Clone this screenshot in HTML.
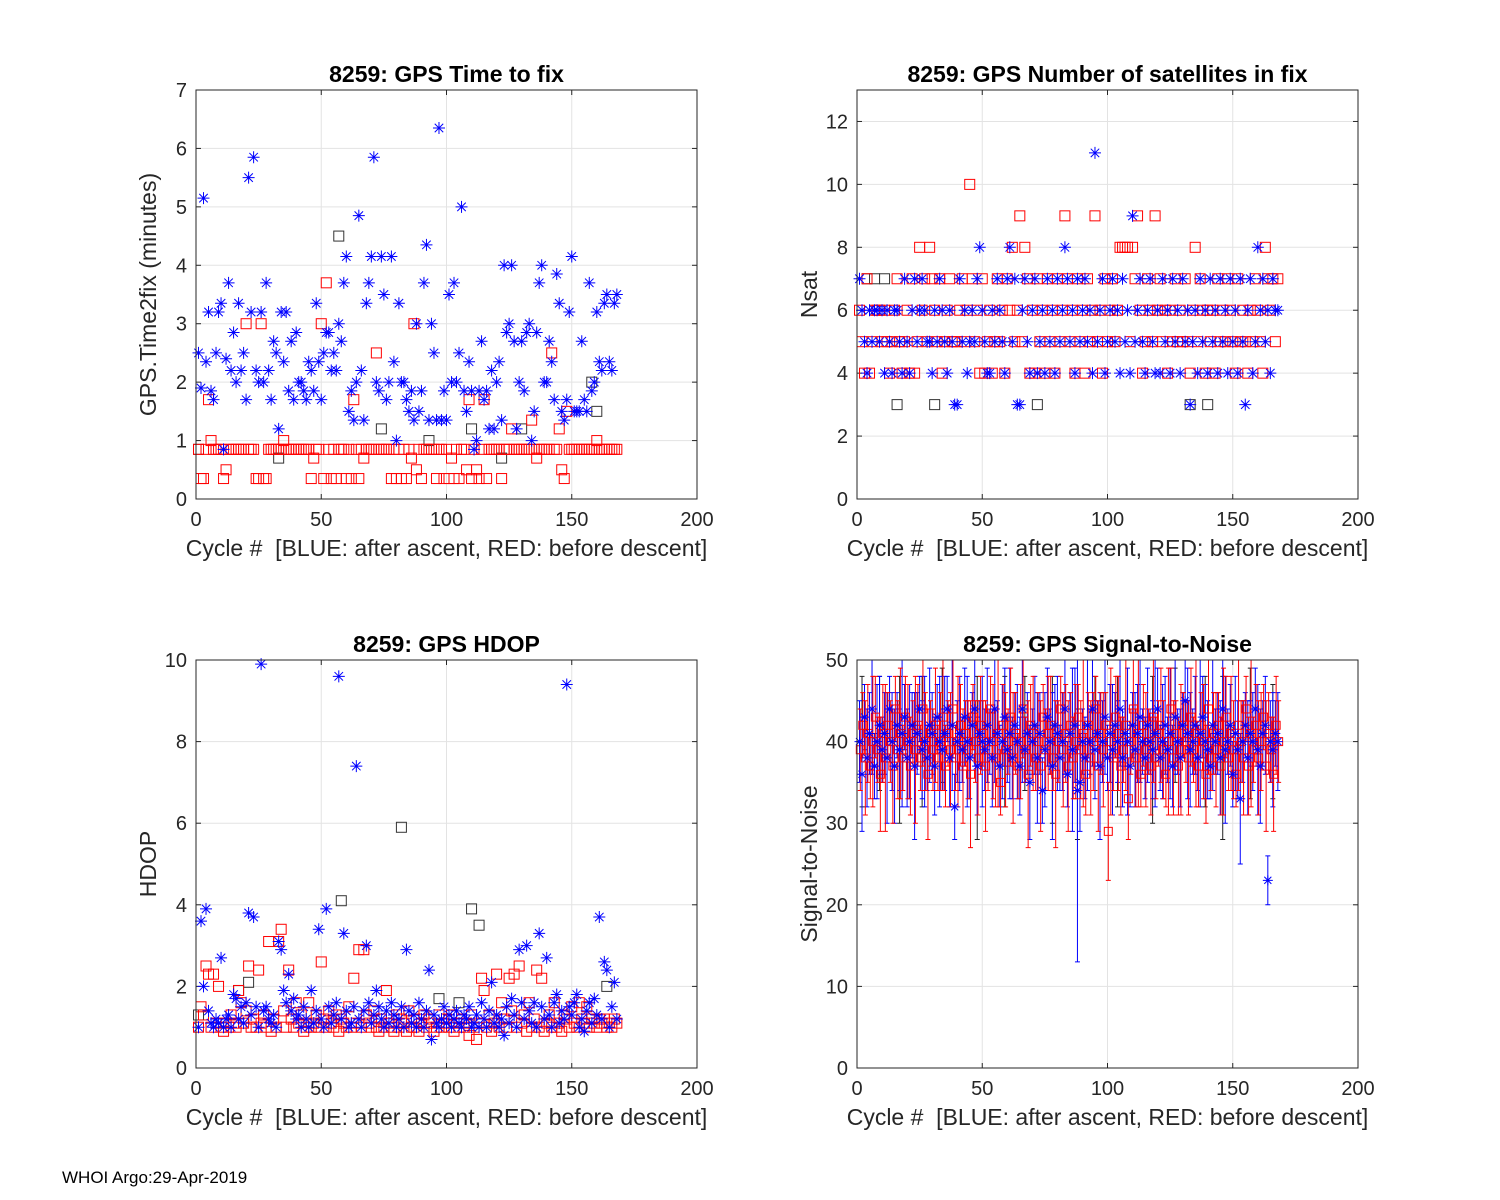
<!DOCTYPE html>
<html><head><meta charset="utf-8"><style>
html,body{margin:0;padding:0;background:#fff;}
svg{display:block;font-family:"Liberation Sans",Arial,sans-serif;}
text{white-space:pre;}
</style></head><body>
<svg id="fig" width="1500" height="1200" viewBox="0 0 1500 1200" xmlns="http://www.w3.org/2000/svg" xml:space="preserve">
<rect width="1500" height="1200" fill="#fff"/>
<text x="62" y="1183" font-size="17" fill="#000">WHOI Argo:29-Apr-2019</text>
</svg>
<script>
const xTicks=[0,50,100,150,200];
const timeBlue=[2.5,1.9,5.15,2.35,3.2,1.85,1.7,2.5,3.2,3.35,0.85,2.4,3.7,2.2,2.85,2.0,3.35,2.2,2.5,1.7,5.5,3.2,5.85,2.2,2.0,3.2,2.0,3.7,2.2,1.7,2.7,2.5,1.2,3.2,2.35,3.2,1.85,2.7,1.7,2.85,2.0,2.0,1.85,1.7,2.35,2.2,1.85,3.35,2.35,1.7,2.5,2.85,2.85,2.2,2.5,2.2,3.0,2.7,3.7,4.15,1.5,1.85,1.35,2.0,4.85,2.2,1.35,3.35,3.7,4.15,5.85,2.0,1.85,4.15,3.5,1.7,2.0,4.15,2.35,1.0,3.35,2.0,2.0,1.7,1.5,1.85,1.35,3.0,1.5,1.85,3.7,4.35,1.35,3.0,2.5,1.35,6.35,1.35,1.85,1.35,3.5,2.0,3.7,2.0,2.5,5.0,1.85,1.5,2.35,1.85,0.85,1.0,1.85,2.7,1.7,1.85,1.2,2.2,1.2,2.0,2.35,1.35,4.0,2.85,3.0,4.0,2.7,1.2,2.0,2.7,1.85,2.85,3.0,1.0,1.5,2.85,3.7,4.0,2.0,2.0,2.7,2.35,1.7,3.85,3.35,1.5,1.35,1.7,3.2,4.15,1.5,1.5,1.5,2.7,1.7,1.5,3.7,1.85,2.0,3.2,2.35,2.2,3.35,3.5,2.35,2.2,3.35,3.5];
const timeRed=[.85,.35,.35,.85,1.7,1.0,.85,.85,.85,.85,.35,.5,.85,.85,.85,.85,.85,.85,.85,3.0,.85,.85,.85,.35,.35,3.0,.35,.35,.85,.85,.85,.85,.85,.85,1.0,.85,.85,.85,.85,.85,.85,.85,.85,.85,.85,.35,.7,.85,.85,3.0,.35,3.7,.85,.35,.85,.35,.85,.85,.85,.35,.85,.35,1.7,.85,.35,.85,.7,.85,.85,.85,.85,2.5,.85,.85,.85,.85,.85,.35,.85,.35,.85,.35,.85,.35,.85,.7,3.0,.5,.85,.35,.85,.85,.85,.85,.85,.35,.85,.85,.35,.85,.35,.7,.35,.85,.35,.85,.85,.5,1.7,.35,.85,.5,.35,.85,1.7,.35,.85,.85,.85,.85,.85,.35,.85,.85,.85,1.2,.85,.85,.85,.85,.85,.85,.85,1.35,.85,.7,.85,.85,.85,.85,.85,2.5,.85,.85,1.2,.5,.35,1.5,.85,.85,.85,.85,.85,.85,.85,.85,.85,.85,.85,1.0,.85,.85,.85,.85,.85,.85,.85,.85];
const timeOtherCycles=[1,33,57,74,93,110,122,130,158,160];
const timeOtherVals=[0.85,0.7,4.5,1.2,1.0,1.2,0.7,1.2,2.0,1.5];
const nsatBlue=[7,6,5,4,6,5,6,6,5,6,4,6,5,4,6,6,5,4,7,5,4,6,7,5,6,7,6,5,5,4,6,5,7,6,5,4,6,5,3,3,7,5,6,4,5,6,5,7,8,6,5,4,4,6,5,7,6,5,4,7,8,5,7,3,3,6,7,5,4,6,7,4,5,6,4,7,5,6,4,7,5,6,8,7,5,6,4,7,5,6,7,5,6,4,11,5,6,7,4,5,6,7,5,6,4,7,5,6,4,9,5,6,7,5,4,6,7,5,4,6,4,7,5,6,4,7,5,6,4,7,5,6,3,5,6,4,7,5,6,4,7,5,6,4,7,5,6,4,7,5,6,4,7,5,3,6,7,4,5,8,6,7,5,6,4,7,6,6];
const nsatRed=[6,5,4,7,4,5,6,6,6,5,6,5,4,5,6,7,5,4,5,6,4,7,4,5,8,6,7,5,8,7,6,5,7,4,5,6,7,5,5,5,6,7,5,6,10,7,5,6,4,7,4,5,6,4,5,7,5,6,4,7,6,8,5,6,9,5,8,7,4,6,4,7,5,6,4,7,5,6,4,7,5,6,9,7,5,6,4,7,5,6,4,7,5,6,9,5,6,4,7,5,6,7,5,6,8,8,8,8,5,8,7,9,6,4,5,7,6,5,9,6,7,5,6,4,6,5,7,5,6,5,7,5,4,6,8,5,7,6,4,6,5,6,4,7,5,6,5,7,6,5,4,7,5,6,5,4,6,5,7,6,5,4,8,7,6,7,5,7];
const nsatOtherCycles=[4,7,11,16,31,72,133,140];
const nsatOtherVals=[7,7,7,3,3,3,3,3];
const hdopBlue=[1.0,3.6,2.0,3.9,1.4,1.1,1.0,1.2,1.1,2.7,1.0,1.2,1.3,1.0,1.8,1.7,1.2,1.5,1.1,1.6,3.8,1.3,3.7,1.5,1.0,9.9,1.4,1.5,1.2,1.1,1.3,1.0,3.1,2.9,1.9,1.6,2.3,1.4,1.7,1.2,1.3,1.0,1.5,1.2,1.0,1.9,1.1,1.4,3.4,1.2,1.0,3.9,1.5,1.1,1.3,1.6,9.6,1.2,3.3,1.4,1.0,1.1,1.5,7.4,1.2,1.0,1.4,3.0,1.6,1.1,1.3,1.9,1.5,1.2,1.0,1.4,1.1,1.6,1.3,1.0,1.2,1.5,1.0,2.9,1.4,1.1,1.3,1.0,1.6,1.2,1.0,1.4,2.4,0.7,1.3,1.1,1.0,1.2,1.5,1.1,1.3,1.0,1.2,1.4,1.1,1.0,1.3,1.2,1.5,1.0,1.1,1.3,1.0,1.6,1.2,1.0,1.4,2.1,1.1,1.3,1.0,1.2,0.8,1.5,1.1,1.7,1.3,1.0,2.9,1.6,1.2,3.0,1.4,1.1,1.6,1.0,3.3,1.5,1.2,2.7,1.3,1.0,1.6,1.8,1.1,1.4,1.2,9.4,1.5,1.3,1.6,1.8,1.0,1.2,0.9,1.4,1.6,1.1,1.7,1.3,3.7,1.2,2.6,2.4,1.0,1.5,2.1,1.2];
const hdopRed=[1.0,1.5,1.3,2.5,2.3,1.0,2.3,1.1,2.0,1.0,0.9,1.1,1.0,1.3,1.1,1.0,1.9,1.6,1.1,1.4,2.5,1.0,1.2,1.0,2.4,1.1,1.3,1.0,3.1,0.9,1.2,1.0,3.1,3.4,1.4,1.0,2.4,1.2,1.0,1.6,1.1,1.3,0.9,1.0,1.6,1.0,1.1,1.3,1.0,2.6,1.2,1.0,1.4,1.1,1.0,1.3,0.9,1.2,1.1,1.0,1.5,1.0,2.2,1.1,2.9,1.0,2.9,1.3,1.1,1.0,1.4,1.0,0.9,1.2,1.0,1.9,1.1,1.0,0.9,1.3,1.0,1.2,1.1,0.9,1.4,1.0,1.0,1.2,0.9,1.1,1.3,1.0,1.2,1.1,0.9,1.0,1.3,1.0,1.1,1.2,1.0,1.3,0.9,1.1,1.0,1.2,1.0,1.1,0.8,1.3,1.0,0.7,1.1,2.2,1.9,1.0,1.3,0.9,1.1,2.3,1.0,1.6,1.2,1.0,2.2,1.4,2.3,1.0,2.5,1.1,1.3,0.9,1.6,1.0,1.2,2.4,1.0,2.2,0.9,1.1,1.3,1.0,1.6,1.0,1.1,0.9,1.3,1.2,1.0,1.5,1.1,1.0,1.6,1.2,1.1,1.5,1.0,1.2,1.1,1.0,1.2,1.1,1.2,1.0,1.1,1.0,1.2,1.1];
const hdopOtherCycles=[1,17,21,58,82,97,105,110,113,164];
const hdopOtherVals=[1.3,1.9,2.1,4.1,5.9,1.7,1.6,3.9,3.5,2.0];
const snrBlue=[40,36,43,38,41,44,37,40,42,39,41,38,44,40,37,42,39,41,43,38,40,42,37,41,44,39,40,38,42,41,37,43,40,39,41,44,38,42,32,40,41,39,43,40,38,42,44,37,41,40,39,42,40,38,44,41,37,40,43,39,41,38,42,40,37,44,39,41,35,40,42,38,41,34,39,43,40,37,42,41,38,40,44,36,41,39,42,34,35,40,38,42,40,44,39,41,37,40,43,38,41,39,42,40,44,38,41,40,37,42,39,41,43,40,38,42,40,39,41,44,38,40,42,39,41,37,43,40,38,42,45,41,39,40,42,38,41,43,40,39,37,42,40,41,38,44,39,40,42,36,41,39,33,40,42,38,41,40,44,39,37,41,42,23,40,39,41,40];
const snrBlueErr=[5,7,4,6,5,8,4,7,6,4,5,8,4,6,7,4,5,9,4,6,7,4,9,5,4,6,8,4,7,5,6,4,8,5,7,4,6,8,4,5,7,4,6,8,5,4,7,6,4,8,5,7,4,6,9,4,5,7,6,4,8,5,4,7,6,9,4,5,7,4,6,8,5,4,7,6,4,9,5,7,4,6,8,4,5,10,7,21,6,4,5,8,4,7,6,4,9,5,7,4,6,8,4,5,7,6,4,9,5,4,7,6,8,4,5,7,4,6,9,5,4,7,6,4,8,5,7,4,6,4,5,8,7,4,6,4,9,5,7,6,4,8,4,5,7,6,9,4,5,4,7,6,8,5,4,7,4,6,5,8,7,4,6,3,5,7,4,6];
const snrRed=[39,42,38,41,37,40,43,39,36,41,38,42,40,37,44,39,41,38,43,40,37,41,39,42,38,44,40,36,41,39,42,38,40,43,37,41,39,44,38,40,42,37,41,39,36,43,40,38,42,41,37,39,44,40,38,41,35,42,39,40,43,38,41,37,40,44,39,36,42,41,38,40,37,43,39,41,42,38,36,40,44,39,41,37,42,38,40,43,39,41,36,42,38,40,44,37,41,39,42,29,40,38,43,41,37,39,42,33,40,44,38,41,36,42,39,40,37,43,38,41,42,39,36,40,44,38,41,37,39,42,40,38,43,39,41,37,42,40,36,44,38,41,39,42,37,40,43,38,41,39,36,42,40,38,44,37,41,39,42,38,40,43,37,41,39,36,42,40];
const snrRedErr=[5,4,7,6,4,8,5,4,7,6,9,4,5,7,4,6,8,4,5,7,6,4,9,5,4,7,6,8,4,5,7,4,6,9,5,4,7,6,4,8,5,7,4,6,9,4,5,7,6,4,8,5,4,7,6,9,4,5,7,4,6,8,5,4,7,6,4,9,5,7,4,6,8,4,5,7,6,4,9,5,4,7,6,8,4,5,7,4,6,9,5,4,7,6,4,8,5,7,4,6,9,4,5,7,6,4,8,5,4,7,6,9,4,5,7,4,6,8,5,4,7,6,4,9,5,7,4,6,8,4,5,7,6,4,9,5,4,7,6,8,4,5,7,4,6,9,5,4,7,6,4,8,5,7,4,6,9,4,5,7,6,4,8,5,4,7,6,5];
const snrOtherCycles=[2,9,17,26,34,48,59,67,78,88,95,104,118,127,139,146,157,166];
const snrOtherVals=[40,41,39,40,42,38,40,41,39,36,41,40,39,42,40,38,41,40];
const snrOtherErr=[8,7,9,8,7,10,8,7,9,8,7,8,9,7,8,10,8,7];

const NS="http://www.w3.org/2000/svg";
const fig=document.getElementById('fig');
function mk(tag,attrs,parent){const e=document.createElementNS(NS,tag);for(const k in attrs)e.setAttribute(k,attrs[k]);(parent||fig).appendChild(e);return e;}

function makeAxes(key,L,T,R,B,ymax,yTicks,title,ylabel){
  const g=mk('g',{});
  
  
  const sx=v=>L+(v-0)/(200-0)*(R-L);
  const sy=v=>B-(v/ymax)*(B-T);
  mk('rect',{x:L,y:T,width:R-L,height:B-T,fill:'#fff'},g);
  const grid=mk('g',{stroke:'#e3e3e3','stroke-width':1},g);
  
  
  xTicks.forEach(t=>{if(t>0&&t<200)mk('line',{x1:sx(t),x2:sx(t),y1:T,y2:B},grid);});
  yTicks.forEach(t=>{if(t>0&&t<ymax)mk('line',{x1:L,x2:R,y1:sy(t),y2:sy(t)},grid);});
  const tk=mk('g',{stroke:'#262626','stroke-width':1},g);
  xTicks.forEach(t=>{mk('line',{x1:sx(t),x2:sx(t),y1:B,y2:B-5},tk);mk('line',{x1:sx(t),x2:sx(t),y1:T,y2:T+5},tk);
    const lb=mk('text',{x:sx(t),y:B+27,'font-size':20,'text-anchor':'middle',fill:'#262626'},g);lb.textContent=t;
    
    });
  yTicks.forEach(t=>{mk('line',{x1:L,x2:L+5,y1:sy(t),y2:sy(t)},tk);mk('line',{x1:R,x2:R-5,y1:sy(t),y2:sy(t)},tk);
    const lb=mk('text',{x:L-9,y:sy(t)+7,'font-size':20,'text-anchor':'end',fill:'#262626'},g);lb.textContent=t;
    
    });
  const ttl=mk('text',{x:(L+R)/2,y:T-8,'font-size':23,'font-weight':'bold','text-anchor':'middle',fill:'#000'},g);ttl.textContent=title;
  
  
  const xl=mk('text',{x:(L+R)/2,y:B+57,'font-size':23,'text-anchor':'middle',fill:'#262626'},g);xl.textContent='Cycle #  [BLUE: after ascent, RED: before descent]';
  
  
  const yl=mk('text',{x:0,y:0,'font-size':23,'text-anchor':'middle',fill:'#262626',transform:`translate(${L-40},${(T+B)/2}) rotate(-90)`},g);yl.textContent=ylabel;
  
  
  const marks=mk('g',{},g);
  
  
  const finish=()=>{const bx=mk('rect',{x:L,y:T,width:R-L,height:B-T,fill:'none',stroke:'#262626','stroke-width':1},g);
    
    };
  return {sx,sy,marks,finish};
}
function star(p,x,y,r,col,name){
  const d=r*0.707;
  const e=mk('path',{d:`M${x-r},${y}H${x+r}M${x},${y-r}V${y+r}M${x-d},${y-d}L${x+d},${y+d}M${x-d},${y+d}L${x+d},${y-d}`,stroke:col,'stroke-width':1,fill:'none'},p);
  
  
}
function sq(p,x,y,r,col,name){
  const e=mk('rect',{x:x-r,y:y-r,width:2*r,height:2*r,stroke:col,'stroke-width':1,fill:'none'},p);
  
  
}
function errbar(p,x,y1,y2,col,name){
  const e=mk('path',{d:`M${x},${y1}V${y2}M${x-2.5},${y1}H${x+2.5}M${x-2.5},${y2}H${x+2.5}`,stroke:col,'stroke-width':1,fill:'none'},p);
  
  
}
function scatterPanel(A,other,otherVals,red,blue){
  other.forEach((c,i)=>sq(A.marks,A.sx(c),A.sy(otherVals[i]),5,'#333','other-point'));
  red.forEach((v,i)=>sq(A.marks,A.sx(i+1),A.sy(v),5,'#ff0000','red-point'));
  blue.forEach((v,i)=>star(A.marks,A.sx(i+1),A.sy(v),6,'#0000ff','blue-point'));
  A.finish();
}
const A1=makeAxes('time-to-fix',196,90,697,499,7,[0,1,2,3,4,5,6,7],'8259: GPS Time to fix','GPS.Time2fix (minutes)');
scatterPanel(A1,timeOtherCycles,timeOtherVals,timeRed,timeBlue);
const A2=makeAxes('nsat',857,90,1358,499,13,[0,2,4,6,8,10,12],'8259: GPS Number of satellites in fix','Nsat');
scatterPanel(A2,nsatOtherCycles,nsatOtherVals,nsatRed,nsatBlue);
const A3=makeAxes('hdop',196,660,697,1068,10,[0,2,4,6,8,10],'8259: GPS HDOP','HDOP');
scatterPanel(A3,hdopOtherCycles,hdopOtherVals,hdopRed,hdopBlue);
const A4=makeAxes('snr',857,660,1358,1068,50,[0,10,20,30,40,50],'8259: GPS Signal-to-Noise','Signal-to-Noise');
snrOtherCycles.forEach((c,i)=>errbar(A4.marks,A4.sx(c),A4.sy(Math.min(50,snrOtherVals[i]+snrOtherErr[i])),A4.sy(snrOtherVals[i]-snrOtherErr[i]),'#222','other-errorbar'));
snrBlue.forEach((v,i)=>errbar(A4.marks,A4.sx(i+1),A4.sy(Math.min(50,v+snrBlueErr[i])),A4.sy(v-snrBlueErr[i]),'#0000ff','blue-errorbar'));
snrRed.forEach((v,i)=>errbar(A4.marks,A4.sx(i+1)+0.8,A4.sy(Math.min(50,v+snrRedErr[i])),A4.sy(v-snrRedErr[i]),'#ff0000','red-errorbar'));
snrRed.forEach((v,i)=>sq(A4.marks,A4.sx(i+1)+0.8,A4.sy(v),4,'#ff0000','red-mean-point'));
snrBlue.forEach((v,i)=>star(A4.marks,A4.sx(i+1),A4.sy(v),5,'#0000ff','blue-mean-point'));
A4.finish();
</script>
</body></html>
